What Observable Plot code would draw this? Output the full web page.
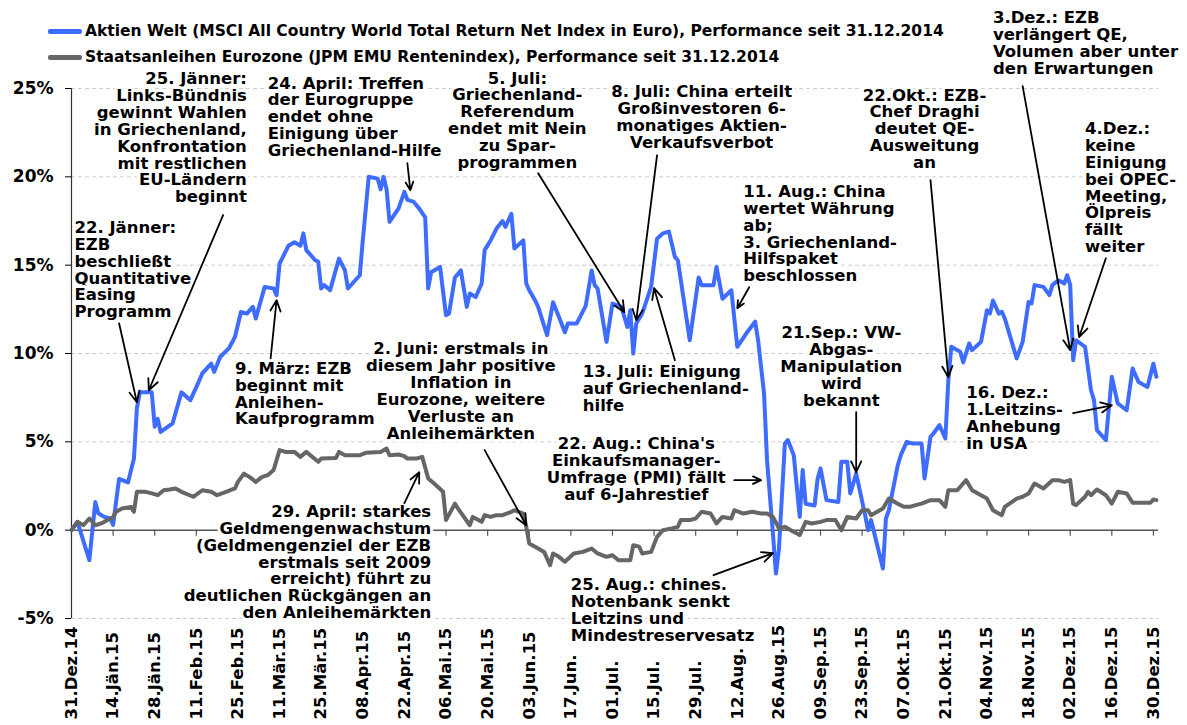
<!DOCTYPE html>
<html>
<head>
<meta charset="utf-8">
<script src="https://cdn.jsdelivr.net/npm/d3@7"></script>
<script src="https://cdn.jsdelivr.net/npm/@observablehq/plot@0.6"></script>
<style>
  html, body { margin: 0; padding: 0; background: #fff; }
  #wrap { position: relative; width: 1187px; height: 725px; font-family: "DejaVu Sans", Verdana, sans-serif; }
  #legend { position: absolute; left: 0; top: 0; font-weight: bold; font-size: 15.5px; color: #000; }
  .row { position: absolute; left: 48px; white-space: nowrap; display: flex; align-items: center; height: 20px; }
  .sw { display: inline-block; width: 34px; height: 5px; margin-right: 3px; border-radius: 2px; }
</style>
</head>
<body>
<div id="wrap"><div id="chart"></div><div id="legend"></div></div>
<script>
// ---------- data ----------
const seriesNames = [
  "Aktien Welt (MSCI All Country World Total Return Net Index in Euro), Performance seit 31.12.2014",
  "Staatsanleihen Eurozone (JPM EMU Rentenindex), Performance seit 31.12.2014"
];
const seriesColors = ["#3d6cff", "#666666"];

const aktienDates = ["2014-12-31","2015-01-02","2015-01-06","2015-01-08","2015-01-09","2015-01-11","2015-01-13","2015-01-14","2015-01-16","2015-01-19","2015-01-21","2015-01-22","2015-01-23","2015-01-27","2015-01-28","2015-01-29","2015-01-30","2015-02-03","2015-02-06","2015-02-09","2015-02-11","2015-02-13","2015-02-16","2015-02-17","2015-02-19","2015-02-22","2015-02-24","2015-02-26","2015-02-28","2015-03-02","2015-03-03","2015-03-06","2015-03-09","2015-03-10","2015-03-11","2015-03-14","2015-03-16","2015-03-18","2015-03-19","2015-03-20","2015-03-23","2015-03-24","2015-03-25","2015-03-26","2015-03-28","2015-03-31","2015-04-02","2015-04-03","2015-04-07","2015-04-08","2015-04-10","2015-04-13","2015-04-14","2015-04-15","2015-04-16","2015-04-17","2015-04-20","2015-04-22","2015-04-23","2015-04-25","2015-04-27","2015-04-29","2015-04-30","2015-05-01","2015-05-04","2015-05-06","2015-05-07","2015-05-09","2015-05-11","2015-05-13","2015-05-14","2015-05-16","2015-05-18","2015-05-19","2015-05-21","2015-05-23","2015-05-25","2015-05-26","2015-05-28","2015-05-29","2015-06-01","2015-06-02","2015-06-03","2015-06-05","2015-06-06","2015-06-09","2015-06-11","2015-06-13","2015-06-15","2015-06-16","2015-06-19","2015-06-22","2015-06-24","2015-06-25","2015-06-26","2015-06-29","2015-07-01","2015-07-04","2015-07-06","2015-07-07","2015-07-08","2015-07-09","2015-07-11","2015-07-14","2015-07-16","2015-07-18","2015-07-20","2015-07-22","2015-07-23","2015-07-27","2015-07-30","2015-07-31","2015-08-04","2015-08-05","2015-08-07","2015-08-10","2015-08-12","2015-08-15","2015-08-18","2015-08-19","2015-08-21","2015-08-22","2015-08-24","2015-08-25","2015-08-26","2015-08-28","2015-08-29","2015-08-31","2015-09-02","2015-09-03","2015-09-04","2015-09-07","2015-09-08","2015-09-09","2015-09-11","2015-09-15","2015-09-16","2015-09-18","2015-09-19","2015-09-21","2015-09-24","2015-09-25","2015-09-26","2015-09-30","2015-10-01","2015-10-02","2015-10-05","2015-10-06","2015-10-08","2015-10-10","2015-10-13","2015-10-14","2015-10-16","2015-10-17","2015-10-19","2015-10-21","2015-10-22","2015-10-23","2015-10-26","2015-10-27","2015-10-29","2015-10-30","2015-11-02","2015-11-04","2015-11-05","2015-11-06","2015-11-08","2015-11-09","2015-11-10","2015-11-14","2015-11-16","2015-11-18","2015-11-19","2015-11-20","2015-11-23","2015-11-25","2015-11-26","2015-11-28","2015-11-30","2015-12-01","2015-12-02","2015-12-03","2015-12-04","2015-12-07","2015-12-09","2015-12-10","2015-12-11","2015-12-14","2015-12-16","2015-12-18","2015-12-21","2015-12-23","2015-12-25","2015-12-28","2015-12-30","2015-12-31"];
const aktienValues = [0,0.47,-1.7,1.6,0.96,0.75,0.66,0.3,2.9,2.7,4.05,6.9,7.8,7.8,5.85,6.3,5.56,6.04,7.8,7.36,8.1,8.87,9.43,8.96,9.8,10.3,10.94,12.35,12.26,12.64,11.98,13.77,13.68,13.3,15.09,16.1,16.3,16.1,16.8,15.85,15.28,15.2,13.68,13.87,13.58,15.37,14.7,13.68,14.43,16.4,20.0,19.9,19.3,20.0,19.3,17.45,18.2,19.15,18.7,18.6,18.2,17.7,13.68,14.6,14.9,12.17,12.26,14.3,14.7,12.64,13.4,13.2,13.96,15.85,16.4,17.07,17.5,17.17,17.9,15.94,16.4,13.96,13.58,13.0,12.64,11.04,12.9,12.07,11.2,11.7,11.7,12.7,14.7,13.87,13.68,10.66,12.83,12.64,11.5,12.45,10.0,11.7,12.26,13.77,16.5,16.8,16.9,15.47,15.28,10.75,14.3,13.87,13.87,14.9,13.1,13.58,10.38,11.13,11.8,10.75,7.74,3.96,-0.2,-2.45,-1.1,4.9,5.1,4.24,0.75,3.4,1.5,1.4,2.9,3.5,1.7,1.6,3.87,3.87,2.08,3.2,0.85,0.0,0.57,-2.17,0.66,1.13,3.68,4.24,5.0,4.9,4.9,2.93,5.28,5.47,5.94,5.19,8.49,10.38,10.1,9.5,10.57,10.19,10.66,12.45,12.26,13.0,12.26,12.36,11.98,9.72,10.66,12.92,12.83,13.87,13.77,13.3,13.87,14.15,13.96,14.43,13.87,9.62,10.75,10.38,7.92,7.36,5.66,5.09,8.68,7.17,6.79,9.15,8.39,8.11,9.43,8.68];

const anleihenDates = ["2014-12-31","2015-01-02","2015-01-04","2015-01-06","2015-01-08","2015-01-10","2015-01-14","2015-01-15","2015-01-17","2015-01-20","2015-01-21","2015-01-22","2015-01-25","2015-01-27","2015-01-29","2015-01-31","2015-02-02","2015-02-04","2015-02-06","2015-02-10","2015-02-13","2015-02-16","2015-02-18","2015-02-21","2015-02-24","2015-02-25","2015-02-27","2015-03-01","2015-03-03","2015-03-05","2015-03-07","2015-03-09","2015-03-11","2015-03-13","2015-03-16","2015-03-18","2015-03-20","2015-03-24","2015-03-25","2015-03-30","2015-03-31","2015-04-02","2015-04-07","2015-04-09","2015-04-14","2015-04-16","2015-04-17","2015-04-20","2015-04-22","2015-04-23","2015-04-26","2015-04-28","2015-04-30","2015-05-02","2015-05-05","2015-05-06","2015-05-09","2015-05-10","2015-05-14","2015-05-15","2015-05-18","2015-05-19","2015-05-21","2015-05-23","2015-05-25","2015-05-28","2015-05-29","2015-06-01","2015-06-02","2015-06-03","2015-06-06","2015-06-08","2015-06-10","2015-06-11","2015-06-13","2015-06-15","2015-06-18","2015-06-21","2015-06-24","2015-06-26","2015-06-29","2015-07-01","2015-07-03","2015-07-05","2015-07-07","2015-07-08","2015-07-10","2015-07-11","2015-07-14","2015-07-16","2015-07-18","2015-07-21","2015-07-23","2015-07-24","2015-07-27","2015-07-29","2015-07-31","2015-08-03","2015-08-05","2015-08-07","2015-08-10","2015-08-11","2015-08-14","2015-08-17","2015-08-20","2015-08-22","2015-08-24","2015-08-26","2015-08-28","2015-08-30","2015-09-02","2015-09-04","2015-09-06","2015-09-09","2015-09-11","2015-09-14","2015-09-16","2015-09-18","2015-09-21","2015-09-23","2015-09-25","2015-09-26","2015-09-30","2015-10-02","2015-10-05","2015-10-07","2015-10-09","2015-10-11","2015-10-13","2015-10-16","2015-10-19","2015-10-21","2015-10-22","2015-10-25","2015-10-28","2015-10-30","2015-11-02","2015-11-04","2015-11-06","2015-11-09","2015-11-10","2015-11-14","2015-11-16","2015-11-18","2015-11-20","2015-11-23","2015-11-26","2015-11-28","2015-11-30","2015-12-02","2015-12-03","2015-12-04","2015-12-07","2015-12-08","2015-12-09","2015-12-11","2015-12-14","2015-12-16","2015-12-18","2015-12-21","2015-12-23","2015-12-29","2015-12-30","2015-12-31"];
const anleihenValues = [0,0.47,0.28,0.66,0.28,0.38,0.75,1.04,1.23,1.32,1.04,2.17,2.17,2.08,1.98,2.26,2.3,2.36,2.17,1.89,2.26,2.17,1.98,2.17,2.36,2.73,3.2,3.0,2.73,3.0,3.11,3.4,4.53,4.43,4.43,4.15,4.43,3.87,4.05,4.09,4.43,4.24,4.24,4.38,4.43,4.62,4.24,4.28,4.19,4.05,4.05,4.15,2.93,2.64,2.17,0.57,1.5,1.23,0.28,0.75,0.47,0.85,0.75,0.85,0.85,1.04,1.13,0.94,0.19,-0.75,-1.04,-1.23,-1.98,-1.32,-1.51,-1.79,-1.32,-1.23,-1.04,-1.32,-1.51,-1.42,-1.7,-1.7,-1.7,-0.85,-0.94,-1.32,-1.23,-0.38,0,0.1,0.19,0.57,0.57,0.66,1.04,0.94,0.38,0.75,0.66,1.13,0.94,1.04,0.94,0.94,0.75,0.1,0.19,0,-0.28,0.47,0.38,0.47,0.57,0.57,0,0.75,0.66,1.13,1.13,0.85,1.23,1.79,1.5,1.32,1.32,1.42,1.5,1.7,1.7,1.32,2.26,2.26,2.83,2.26,1.98,1.79,1.13,0.85,1.32,1.79,1.89,2.08,2.64,2.36,2.83,2.83,2.73,2.83,1.5,1.42,1.89,2.17,1.98,2.3,1.98,1.5,2.17,2.08,1.55,1.55,1.74,1.7];

const tickDates = ["2014-12-31","2015-01-14","2015-01-28","2015-02-11","2015-02-25","2015-03-11","2015-03-25","2015-04-08","2015-04-22","2015-05-06","2015-05-20","2015-06-03","2015-06-17","2015-07-01","2015-07-15","2015-07-29","2015-08-12","2015-08-26","2015-09-09","2015-09-23","2015-10-07","2015-10-21","2015-11-04","2015-11-18","2015-12-02","2015-12-16","2015-12-30"];
const tickLabels = ["31.Dez.14","14.Jän.15","28.Jän.15","11.Feb.15","25.Feb.15","11.Mär.15","25.Mär.15","08.Apr.15","22.Apr.15","06.Mai.15","20.Mai.15","03.Jun.15","17.Jun.","01.Jul.","15.Jul.","29.Jul.","12.Aug.","26.Aug.15","09.Sep.15","23.Sep.15","07.Okt.15","21.Okt.15","04.Nov.15","18.Nov.15","02.Dez.15","16.Dez.15","30.Dez.15"];
const yTicks = [-5, 0, 5, 10, 15, 20, 25];

const annotations = [
  {text: "25. Jänner:\nLinks-Bündnis\ngewinnt Wahlen\nin Griechenland,\nKonfrontation\nmit restlichen\nEU-Ländern\nbeginnt", date: "2015-02-28", value: 22.2, anchor: "end"},
  {text: "22. Jänner:\nEZB\nbeschließt\nQuantitative\nEasing\nProgramm", date: "2015-01-01", value: 14.74, anchor: "start"},
  {text: "24. April: Treffen\nder Eurogruppe\nendet ohne\nEinigung über\nGriechenland-Hilfe", date: "2015-03-07", value: 23.4, anchor: "start"},
  {text: "5. Juli:\nGriechenland-\nReferendum\nendet mit Nein\nzu Spar-\nprogrammen", date: "2015-05-30", value: 23.2, anchor: "middle"},
  {text: "8. Juli: China erteilt\nGroßinvestoren 6-\nmonatiges Aktien-\nVerkaufsverbot", date: "2015-07-31", value: 23.37, anchor: "middle"},
  {text: "11. Aug.: China\nwertet Währung\nab;\n3. Griechenland-\nHilfspaket\nbeschlossen", date: "2015-08-14", value: 16.78, anchor: "start"},
  {text: "22.Okt.: EZB-\nChef Draghi\ndeutet QE-\nAusweitung\nan", date: "2015-10-14", value: 22.72, anchor: "middle"},
  {text: "3.Dez.: EZB\nverlängert QE,\nVolumen aber unter\nden Erwartungen", date: "2015-11-06", value: 27.56, anchor: "start"},
  {text: "4.Dez.:\nkeine\nEinigung\nbei OPEC-\nMeeting,\nÖlpreis\nfällt\nweiter", date: "2015-12-07", value: 19.38, anchor: "start"},
  {text: "9. März: EZB\nbeginnt mit\nAnleihen-\nKaufprogramm", date: "2015-02-24", value: 7.72, anchor: "start"},
  {text: "2. Juni: erstmals in\ndiesem Jahr positive\nInflation in\nEurozone, weitere\nVerluste an\nAnleihemärkten", date: "2015-05-11", value: 7.87, anchor: "middle"},
  {text: "29. April: starkes\nGeldmengenwachstum\n(Geldmengenziel der EZB\nerstmals seit 2009\nerreicht) führt zu\ndeutlichen Rückgängen an\nden Anleihemärkten", date: "2015-05-01", value: -1.81, anchor: "end"},
  {text: "13. Juli: Einigung\nauf Griechenland-\nhilfe", date: "2015-06-21", value: 8.0, anchor: "start"},
  {text: "22. Aug.: China's\nEinkaufsmanager-\nUmfrage (PMI) fällt\nauf 6-Jahrestief", date: "2015-07-09", value: 3.45, anchor: "middle"},
  {text: "25. Aug.: chines.\nNotenbank senkt\nLeitzins und\nMindestreservesatz", date: "2015-06-17", value: -4.53, anchor: "start"},
  {text: "21.Sep.: VW-\nAbgas-\nManipulation\nwird\nbekannt", date: "2015-09-16", value: 9.25, anchor: "middle"},
  {text: "16. Dez.:\n1.Leitzins-\nAnhebung\nin USA", date: "2015-10-28", value: 6.34, anchor: "start"}
];

const arrows = [
  {d1: "2015-02-20", v1: 17.83, d2: "2015-01-26", v2: 7.92},
  {d1: "2015-01-16", v1: 11.71, d2: "2015-01-22", v2: 7.24},
  {d1: "2015-04-23", v1: 20.77, d2: "2015-04-24", v2: 19.24},
  {d1: "2015-06-06", v1: 20.2,  d2: "2015-07-05", v2: 12.34},
  {d1: "2015-07-16", v1: 21.22, d2: "2015-07-09", v2: 11.88},
  {d1: "2015-08-16", v1: 13.75, d2: "2015-08-12", v2: 12.56},
  {d1: "2015-10-16", v1: 19.81, d2: "2015-10-22", v2: 8.66},
  {d1: "2015-11-16", v1: 25.13, d2: "2015-12-02", v2: 10.19},
  {d1: "2015-12-14", v1: 15.39, d2: "2015-12-05", v2: 10.92},
  {d1: "2015-03-08", v1: 9.73,  d2: "2015-03-10", v2: 13.02},
  {d1: "2015-05-19", v1: 4.53,  d2: "2015-06-02", v2: 0.28},
  {d1: "2015-04-22", v1: 1.53,  d2: "2015-04-27", v2: 3.28},
  {d1: "2015-07-22", v1: 9.62,  d2: "2015-07-15", v2: 13.7},
  {d1: "2015-08-11", v1: 2.83,  d2: "2015-08-20", v2: 2.83},
  {d1: "2015-08-04", v1: -2.55, d2: "2015-08-24", v2: -1.3},
  {d1: "2015-09-21", v1: 6.68,  d2: "2015-09-21", v2: 3.28},
  {d1: "2015-12-03", v1: 6.62,  d2: "2015-12-16", v2: 7.07}
];

// ---------- build ----------
const parse = s => new Date(s + "T00:00:00Z");
const aktien = aktienDates.map((d, i) => ({date: parse(d), value: aktienValues[i]}));
const anleihen = anleihenDates.map((d, i) => ({date: parse(d), value: anleihenValues[i]}));
const ticks = tickDates.map(parse);
const labelOf = new Map(ticks.map((t, i) => [+t, tickLabels[i]]));
const annos = annotations.map(a => ({...a, date: parse(a.date)}));
const arr = arrows.map(a => ({x1: parse(a.d1), y1: a.v1, x2: parse(a.d2), y2: a.v2}));
const start = parse("2014-12-31");

const textOpts = {
  x: "date", y: "value", text: "text",
  lineAnchor: "middle", lineHeight: 1.02,
  fontSize: 16.5, fontWeight: "bold", fill: "#000",
  stroke: "#fff", strokeWidth: 6, paintOrder: "stroke"
};

const chart = Plot.plot({
  width: 1187, height: 725,
  marginLeft: 71, marginRight: 29, marginTop: 88, marginBottom: 107,
  x: {type: "utc", domain: [start, new Date("2015-12-31T17:00:00Z")], axis: null},
  y: {domain: [-5, 25]},
  style: {fontFamily: "'DejaVu Sans', Verdana, sans-serif", fontWeight: "bold", color: "#000", background: "#fff", overflow: "visible"},
  marks: [
    Plot.ruleY(yTicks.filter(v => v !== 0), {stroke: "#cfcfcf", strokeDasharray: "4,3", strokeWidth: 1}),
    Plot.ruleY([0], {stroke: "#555", strokeWidth: 1.5}),
    Plot.ruleX(ticks, {x: d => d, y1: 0, y2: -0.34, stroke: "#555", strokeWidth: 1.2}),
    Plot.ruleX([start], {y1: -5, y2: 25, stroke: "#333", strokeWidth: 1.2}),
    Plot.axisY({ticks: yTicks, tickFormat: d => d + "%", tickSize: 6, tickPadding: 12, fontSize: 17, fontWeight: "bold", label: null}),
    Plot.text(ticks, {x: d => d, text: d => labelOf.get(+d), frameAnchor: "bottom", dy: 101, rotate: -90, textAnchor: "start", lineAnchor: "middle", fontSize: 16.5, fontWeight: "bold", fill: "#000"}),
    Plot.line(aktien, {x: "date", y: "value", stroke: seriesColors[0], strokeWidth: 4, strokeLinejoin: "round"}),
    Plot.line(anleihen, {x: "date", y: "value", stroke: seriesColors[1], strokeWidth: 4, strokeLinejoin: "round"}),
    Plot.text(annos.filter(a => a.anchor === "start"), {...textOpts, textAnchor: "start"}),
    Plot.text(annos.filter(a => a.anchor === "middle"), {...textOpts, textAnchor: "middle"}),
    Plot.text(annos.filter(a => a.anchor === "end"), {...textOpts, textAnchor: "end"}),
    Plot.arrow(arr, {x1: "x1", y1: "y1", x2: "x2", y2: "y2", stroke: "#000", strokeWidth: 1.8, headLength: 10, headAngle: 50})
  ]
});
document.getElementById("chart").appendChild(chart);

// legend
const legend = document.getElementById("legend");
seriesNames.forEach((name, i) => {
  const row = document.createElement("div");
  row.className = "row";
  row.style.top = (21 + i * 26) + "px";
  const sw = document.createElement("span");
  sw.className = "sw";
  sw.style.background = seriesColors[i];
  row.appendChild(sw);
  row.appendChild(document.createTextNode(name));
  legend.appendChild(row);
});
</script>
</body>
</html>
